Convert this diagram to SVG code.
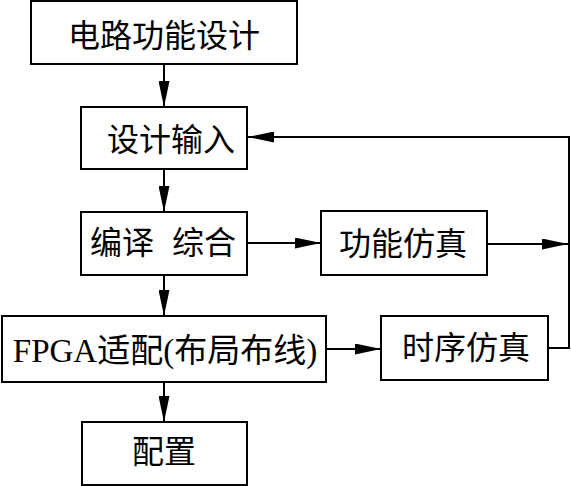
<svg xmlns="http://www.w3.org/2000/svg" width="571" height="486" viewBox="0 0 571 486">
<style>
.box{fill:#fff;stroke:#000;stroke-width:2}
.t{font-family:"Liberation Serif","Noto Sans CJK SC",serif;font-size:32px;fill:#000;text-anchor:middle;dominant-baseline:central}
.c{fill:none;stroke:#000;stroke-width:2}
</style>
<defs>
<marker id="ah" viewBox="0 0 26 11" refX="26" refY="5.5" markerWidth="26" markerHeight="11" markerUnits="userSpaceOnUse" orient="auto">
<path d="M0,0 L26,5.5 L0,11 z" fill="#000"/>
</marker>
</defs>
<g id="connectors">
<line class="c" x1="164" y1="64" x2="164" y2="107" marker-end="url(#ah)"/>
<line class="c" x1="164" y1="169" x2="164" y2="212" marker-end="url(#ah)"/>
<line class="c" x1="164" y1="275" x2="164" y2="316" marker-end="url(#ah)"/>
<line class="c" x1="164" y1="382" x2="164" y2="422" marker-end="url(#ah)"/>
<line class="c" x1="247" y1="243" x2="321" y2="243" marker-end="url(#ah)"/>
<line class="c" x1="487" y1="244" x2="568" y2="244" marker-end="url(#ah)"/>
<line class="c" x1="326" y1="349" x2="381" y2="349" marker-end="url(#ah)"/>
<polyline class="c" points="548,348 569,348 569,137 248,137" marker-end="url(#ah)"/>
</g>
<g id="n1"><rect class="box" x="31" y="1" width="266" height="63"/><text class="t" x="164" y="36">电路功能设计</text></g>
<g id="n2"><rect class="box" x="81" y="107" width="166" height="62"/><text class="t" x="171" y="140">设计输入</text></g>
<g id="n3"><rect class="box" x="81" y="212" width="166" height="63"/><text class="t" y="243"><tspan x="122">编译</tspan><tspan x="204">综合</tspan></text></g>
<g id="n4"><rect class="box" x="321" y="211" width="166" height="64"/><text class="t" x="403" y="244">功能仿真</text></g>
<g id="n5"><rect class="box" x="2" y="316" width="324" height="66"/><text class="t" x="165" y="351" style="font-size:33px">FPGA适配(布局布线)</text></g>
<g id="n6"><rect class="box" x="381" y="316" width="167" height="64"/><text class="t" x="466" y="348">时序仿真</text></g>
<g id="n7"><rect class="box" x="82" y="422" width="165" height="63"/><text class="t" x="164" y="452">配置</text></g>
</svg>
